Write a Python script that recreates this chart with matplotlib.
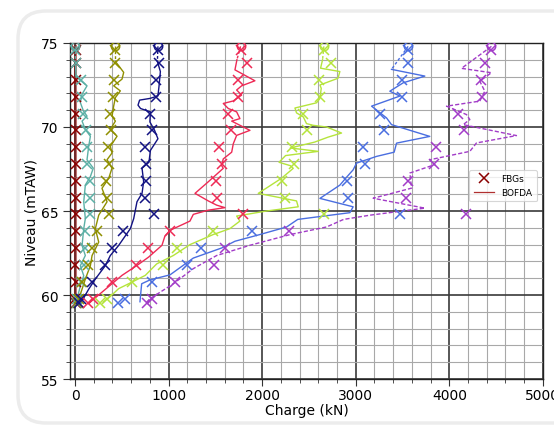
import matplotlib
matplotlib.use("Agg")
import matplotlib.pyplot as plt
from matplotlib.patches import FancyBboxPatch
from matplotlib.ticker import MultipleLocator
from matplotlib.lines import Line2D

# ---------------- data ----------------
fbg_depth = [74.6, 73.8, 72.8, 71.8, 70.8, 69.8, 68.8, 67.8, 66.8, 65.8, 64.8,
             63.8, 62.8, 61.8, 60.8, 59.75, 59.5]

fbg_darkred = [5, 5, 5, 5, 5, 5, 5, 5, 5, 5, 5, 5, 5, 0, 5, 0, 5]
fbg_teal = [0, 5, 67, 75, 82, 117, 128, 128, 164, 164, 164, 110, 103, 92, 67, 21, 20]
fbg_olive = [431, 431, 413, 406, 377, 388, 352, 360, 334, 342, 360, 235, 182, 139, 75, 40, 30]
fbg_navy = [886, 900, 865, 869, 805, 822, 751, 758, 758, 751, 847, 513, 395, 317, 182, 60, 40]
fbg_crimson = [1769, 1840, 1744, 1744, 1630, 1666, 1538, 1567, 1502, 1513, 1791, 1015, 780, 651, 395, 190, 135]
fbg_yg = [2659, 2731, 2609, 2617, 2439, 2481, 2314, 2339, 2207, 2243, 2659, 1470, 1093, 937, 609, 338, 267]
fbg_blue = [3560, 3560, 3489, 3489, 3257, 3304, 3079, 3097, 2902, 2920, 3471, 1887, 1346, 1200, 819, 534, 463]
fbg_purple = [4450, 4379, 4343, 4354, 4094, 4158, 3855, 3837, 3560, 3542, 4176, 2289, 1602, 1484, 1068, 819, 765]

bofda_darkred_depth = [74.8, 59.5]
bofda_darkred_load = [0, 0]

bofda_teal_depth = [74.8, 73.9, 73.0, 72.45, 71.95, 71.45, 70.95, 70.65, 70.35, 69.85, 69.45, 68.85,
                    68.05, 67.55, 67.05, 66.55, 65.55, 64.55, 63.95, 62.95, 62.35, 61.75, 61.15,
                    60.55, 59.75, 59.5]
bofda_teal_load = [0, 5, 10, 128, 75, 57, 90, 128, 75, 110, 164, 146, 128, 195, 164, 110, 93, 110,
                   93, 75, 110, 57, 93, 57, 21, 15]

bofda_olive_depth = [74.8, 73.9, 73.65, 73.25, 72.85, 72.45, 72.15, 71.75, 71.25, 70.65, 70.35,
                     69.85, 69.45, 68.85, 68.45, 68.05, 67.55, 66.95, 66.35, 65.55, 64.75, 63.95,
                     63.15, 62.35, 61.75, 60.95, 60.35, 59.75, 59.5]
bofda_olive_load = [431, 431, 466, 520, 502, 413, 484, 431, 413, 395, 431, 377, 449, 377, 395,
                    342, 395, 360, 288, 342, 253, 217, 253, 182, 164, 110, 75, 39, 30]

bofda_navy_depth = [74.8, 73.9, 73.3, 72.4, 71.85, 71.7, 71.6, 71.3, 71.1, 70.9, 70.3, 69.8,
                    69.3, 68.6, 67.9, 67.55, 66.75, 66.05, 65.55, 64.55, 63.95, 62.95, 62.35,
                    61.75, 60.95, 60.35, 59.65, 59.5]
bofda_navy_load = [886, 880, 912, 897, 886, 800, 690, 673, 700, 805, 800, 850, 886, 805, 790,
                   716, 733, 716, 662, 627, 591, 466, 377, 324, 217, 146, 75, 50]

bofda_crimson_depth = [74.8, 74.0, 73.4, 72.75, 72.45, 72.2, 71.9, 71.55, 71.4, 71.1, 70.9,
                       70.5, 70.35, 69.8, 69.5, 69.0, 68.5, 68.1, 67.7, 67.54, 66.74, 66.05,
                       65.6, 65.35, 65.2, 65.05, 64.8, 64.4, 63.85, 63.5, 62.96, 62.26, 61.76,
                       61.17, 60.67, 60.17, 59.67, 59.5]
bofda_crimson_load = [1769, 1730, 1709, 1922, 1780, 1727, 1780, 1691, 1584, 1638, 1727, 1762,
                      1674, 1869, 1727, 1691, 1674, 1584, 1567, 1584, 1424, 1282, 1424, 1513,
                      1602, 1424, 1264, 1228, 1015, 960, 929, 787, 662, 502, 395, 288, 182, 150]

bofda_yg_depth = [74.8, 74.0, 73.5, 73.3, 72.9, 72.5, 72.3, 71.7, 71.44, 71.13, 70.84, 70.6,
                  70.2, 70.1, 70.0, 69.64, 69.4, 69.1, 68.75, 68.55, 68.3, 67.9, 67.7, 67.54,
                  66.95, 66.05, 65.6, 65.25, 65.0, 64.7, 64.4, 63.95, 63.6, 63.0, 62.35, 61.85,
                  61.17, 60.67, 60.38, 59.9, 59.58]
bofda_yg_load = [2659, 2645, 2624, 2830, 2810, 2617, 2631, 2617, 2581, 2350, 2367, 2439, 2474,
                 2545, 2688, 2848, 2706, 2560, 2300, 2600, 2250, 2180, 2300, 2332, 2207, 1958,
                 2367, 2385, 2047, 1727, 1762, 1655, 1477, 1228, 1050, 872, 751, 573, 466,
                 374, 302]

bofda_blue_depth = [74.8, 73.43, 73.03, 72.63, 72.13, 71.84, 71.24, 70.54, 70.14, 69.44, 69.04,
                    68.5, 68.25, 67.85, 67.45, 67.0, 66.54, 65.75, 65.25, 64.9, 64.5, 64.05,
                    63.6, 63.2, 62.8, 62.2, 61.2, 60.9, 60.67, 59.6]
bofda_blue_load = [3560, 3382, 3738, 3507, 3364, 3471, 3169, 3329, 3382, 3791, 3436, 3410, 3222,
                   3008, 2972, 2900, 2830, 2617, 2972, 2937, 2380, 2261, 1976, 1709, 1567, 1264,
                   1015, 801, 712, 694]

bofda_purple_depth = [74.8, 73.49, 73.23, 72.73, 72.13, 71.54, 71.24, 70.74, 70.44, 70.14, 69.49,
                      69.05, 68.55, 68.05, 67.76, 67.26, 66.36, 65.76, 65.17, 64.75, 64.5, 64.05,
                      63.6, 62.96, 62.35, 61.57, 60.67, 59.78, 59.48]
bofda_purple_load = [4450, 4130, 4450, 4325, 4379, 4325, 3970, 4183, 4219, 4147, 4717, 4290,
                     4219, 3791, 3845, 3578, 3596, 3186, 3738, 3150, 2870, 2688, 2300, 1869,
                     1513, 1264, 1050, 801, 748]

series = [
    ("#8b0000", fbg_darkred, bofda_darkred_depth, bofda_darkred_load, "-"),
    ("#5cb0a6", fbg_teal, bofda_teal_depth, bofda_teal_load, "-"),
    ("#8f8f00", fbg_olive, bofda_olive_depth, bofda_olive_load, "-"),
    ("#121282", fbg_navy, bofda_navy_depth, bofda_navy_load, "-"),
    ("#ee2a55", fbg_crimson, bofda_crimson_depth, bofda_crimson_load, "-"),
    ("#b5e43c", fbg_yg, bofda_yg_depth, bofda_yg_load, "-"),
    ("#4a6ee0", fbg_blue, bofda_blue_depth, bofda_blue_load, "-"),
    ("#a23cc8", fbg_purple, bofda_purple_depth, bofda_purple_load, "--"),
]

# ---------------- figure ----------------
fig = plt.figure(figsize=(5.54, 4.27), dpi=100)
frame = FancyBboxPatch((0.18, 0.03), 6.0, 4.12,
                       boxstyle="round,pad=0,rounding_size=0.28",
                       transform=fig.dpi_scale_trans, facecolor="white",
                       edgecolor="#ececec", linewidth=2.5, zorder=-10)
fig.patches.append(frame)

ax = fig.add_axes([0.127, 0.110, 0.853, 0.787])
ax.set_facecolor("none")

for color, fbg, bd, bl, ls in series:
    if ls == "--":
        ax.plot(bl, bd, color=color, lw=1.0, ls=(0, (3, 1.5)), zorder=3)
    else:
        if len(bd) > 2:
            ax.plot(bl[:2], bd[:2], color=color, lw=1.0, ls=(0, (2, 1.5)), zorder=3)
            ax.plot(bl[1:], bd[1:], color=color, lw=1.0, ls="-", zorder=3)
        else:
            ax.plot(bl, bd, color=color, lw=2.2, alpha=0.55, zorder=3)
    ax.plot(fbg, fbg_depth, ls="none", marker="x", ms=7, mew=1.1, color=color, zorder=4)
    ax.plot([bl[0]], [bd[0]], ls="none", marker="o", ms=6, mfc="none", mew=1.1,
            color=color, zorder=4)

ax.set_xlim(-50, 5000)
ax.set_ylim(55, 75)
ax.xaxis.set_major_locator(MultipleLocator(1000))
ax.xaxis.set_minor_locator(MultipleLocator(200))
ax.yaxis.set_major_locator(MultipleLocator(5))
ax.yaxis.set_minor_locator(MultipleLocator(1))
ax.grid(which="major", color="#3a3a3a", lw=1.2, zorder=0)
ax.grid(which="minor", color="#a8a8a8", lw=0.8, zorder=0)
ax.set_axisbelow(True)
ax.tick_params(which="major", length=5, labelsize=10, color="#333333")
ax.tick_params(axis="x", which="major", pad=1.5)
ax.tick_params(which="minor", length=3, color="#333333")
for s in ax.spines.values():
    s.set_color("#222222")
    s.set_linewidth(1.0)

ax.set_xlabel("Charge (kN)", fontsize=10, labelpad=1)
ax.set_ylabel("Niveau (mTAW)", fontsize=10, labelpad=1.5)

handles = [Line2D([], [], ls="none", marker="x", ms=7, mew=1.1, color="#8b0000"),
           Line2D([], [], ls="-", lw=0.9, color="#b03030")]
leg = ax.legend(handles, ["FBGs", "BOFDA"], loc="upper right",
                bbox_to_anchor=(0.996, 0.636), fontsize=6.5, frameon=True,
                handlelength=2.2, borderpad=0.5, labelspacing=0.5, fancybox=True)
leg.get_frame().set_edgecolor("#cccccc")
leg.get_frame().set_linewidth(0.8)

fig.savefig("out.png", dpi=100)
